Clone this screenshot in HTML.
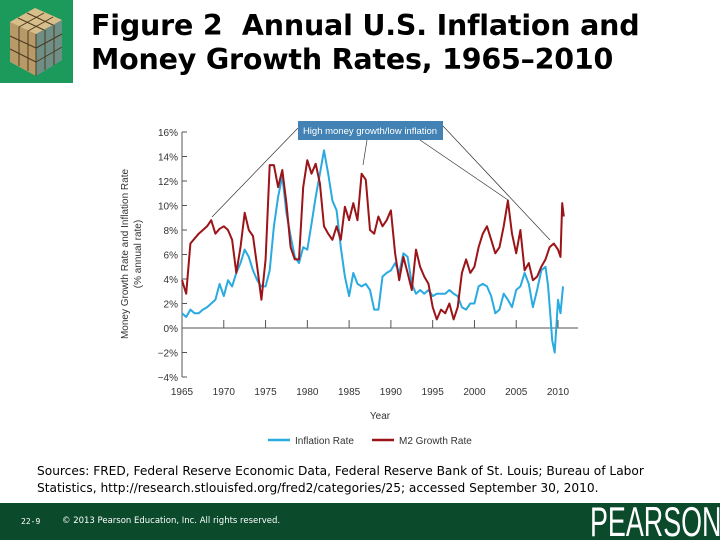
<!DOCTYPE html>
<html><head><meta charset="utf-8"><style>
body{margin:0;width:720px;height:540px;overflow:hidden;background:#fff;position:relative;font-family:"Liberation Sans",sans-serif}
.title{position:absolute;left:91px;top:9px;font-family:"DejaVu Sans",sans-serif;font-weight:bold;font-size:28.5px;line-height:34px;color:#000;letter-spacing:-0.2px}
.src{position:absolute;left:37px;top:463px;font-family:"DejaVu Sans",sans-serif;font-size:12.2px;line-height:17px;color:#000}
.footer{position:absolute;left:0;top:503px;width:720px;height:37px;background:#0b4a2b;overflow:hidden}
</style></head><body>
<div style="position:absolute;left:0;top:0;width:73px;height:83px;background:#1b9a5c">
<svg width="73" height="83"><polygon points="10,22 35,8 62,20 62,60 36,76 10,62" fill="#b89a68"/><polygon points="10,22 35,8 62,20 36,34" fill="#d8be8a"/><polygon points="36,34 62,20 62,60 36,76" fill="#6f8f86"/>
<g stroke="#4a3a20" stroke-width="1"><line x1="18" y1="18" x2="44" y2="30"/><line x1="27" y1="13" x2="53" y2="25"/><line x1="19" y1="27" x2="44" y2="13"/><line x1="28" y1="31" x2="53" y2="17"/><line x1="36" y1="34" x2="36" y2="76"/><line x1="19" y1="27" x2="19" y2="66"/><line x1="28" y1="31" x2="28" y2="71"/><line x1="45" y1="30" x2="45" y2="70"/><line x1="54" y1="25" x2="54" y2="65"/><line x1="10" y1="36" x2="36" y2="48"/><line x1="10" y1="49" x2="36" y2="62"/><line x1="36" y1="48" x2="62" y2="34"/><line x1="36" y1="62" x2="62" y2="47"/></g></svg></div>
<div class="title">Figure 2&nbsp; Annual U.S. Inflation and<br>Money Growth Rates, 1965–2010</div>

<svg id="chart" width="720" height="460" style="position:absolute;left:0;top:0" font-family="Liberation Sans, sans-serif"></svg>

<div class="src">Sources: FRED, Federal Reserve Economic Data, Federal Reserve Bank of St. Louis; Bureau of Labor<br>Statistics, http://research.stlouisfed.org/fred2/categories/25; accessed September 30, 2010.</div>
<div class="footer">
<span style="position:absolute;left:21px;top:14px;color:#fff;font-family:'DejaVu Sans Mono',monospace;font-size:8px">22-9</span>
<span style="position:absolute;left:62px;top:13px;color:#fff;font-family:'DejaVu Sans',sans-serif;font-size:8.5px">© 2013 Pearson Education, Inc. All rights reserved.</span>
<span style="position:absolute;left:590px;top:-5px;color:#fff;font-family:'Liberation Sans',sans-serif;font-size:42px;transform:scaleX(0.64);transform-origin:left top;white-space:nowrap">PEARSON</span>
</div>
<script>
const yTicks=[16,14,12,10,8,6,4,2,0,-2,-4];
const xTicks=[1965,1970,1975,1980,1985,1990,1995,2000,2005,2010];
const m2Years=[1965,1965.5,1966,1967,1968,1968.5,1969,1969.5,1970,1970.5,1971,1971.5,1972,1972.5,1973,1973.5,1974,1974.5,1975,1975.5,1976,1976.5,1977,1977.5,1978,1978.5,1979,1979.5,1980,1980.5,1981,1981.5,1982,1982.5,1983,1983.5,1984,1984.5,1985,1985.5,1986,1986.5,1987,1987.5,1988,1988.5,1989,1989.5,1990,1990.5,1991,1991.5,1992,1992.5,1993,1993.5,1994,1994.5,1995,1995.5,1996,1996.5,1997,1997.5,1998,1998.5,1999,1999.5,2000,2000.5,2001,2001.5,2002,2002.5,2003,2003.5,2004,2004.5,2005,2005.5,2006,2006.5,2007,2007.5,2008,2008.5,2009,2009.5,2010,2010.3,2010.5,2010.7];
const m2Values=[3.9,2.8,6.9,7.7,8.3,8.8,7.7,8.1,8.3,8.0,7.2,4.5,6.6,9.4,8.0,7.5,5.0,2.3,5.6,13.3,13.3,11.5,12.9,10.2,6.6,5.6,5.6,11.5,13.7,12.6,13.4,11.8,8.3,7.7,7.2,8.3,7.2,9.9,8.8,10.2,8.8,12.6,12.1,8.0,7.7,9.1,8.3,8.8,9.6,6.1,3.9,5.8,4.5,3.1,6.4,5.0,4.2,3.6,1.7,0.7,1.5,1.2,2.0,0.7,1.7,4.5,5.6,4.5,5.0,6.6,7.7,8.3,7.2,6.1,6.6,8.3,10.4,7.7,6.1,8.0,4.7,5.3,3.9,4.2,5.0,5.6,6.6,6.9,6.4,5.8,10.2,9.1];
const infYears=[1965,1965.5,1966,1966.5,1967,1967.5,1968,1968.5,1969,1969.5,1970,1970.5,1971,1971.5,1972,1972.5,1973,1973.5,1974,1974.5,1975,1975.5,1976,1976.5,1977,1977.5,1978,1978.5,1979,1979.5,1980,1980.5,1981,1981.5,1982,1982.5,1983,1983.5,1984,1984.5,1985,1985.5,1986,1986.5,1987,1987.5,1988,1988.5,1989,1989.5,1990,1990.5,1991,1991.5,1992,1992.5,1993,1993.5,1994,1994.5,1995,1995.5,1996,1996.5,1997,1997.5,1998,1998.5,1999,1999.5,2000,2000.5,2001,2001.5,2002,2002.5,2003,2003.5,2004,2004.5,2005,2005.5,2006,2006.5,2007,2007.5,2008,2008.5,2008.8,2009.1,2009.3,2009.6,2010,2010.3,2010.6];
const infValues=[1.2,0.9,1.5,1.2,1.2,1.5,1.7,2.0,2.3,3.6,2.6,3.9,3.4,4.5,5.3,6.4,5.8,4.7,3.9,3.4,3.4,4.7,8.3,10.7,12.4,9.4,7.5,5.8,5.3,6.6,6.4,8.5,10.7,12.6,14.5,12.6,10.4,9.6,6.6,4.2,2.6,4.5,3.6,3.4,3.6,3.1,1.5,1.5,4.2,4.5,4.7,5.3,4.5,6.1,5.8,3.6,2.8,3.1,2.8,3.1,2.6,2.8,2.8,2.8,3.1,2.8,2.6,1.7,1.5,2.0,2.0,3.4,3.6,3.4,2.6,1.2,1.5,2.8,2.3,1.7,3.1,3.4,4.5,3.6,1.7,3.1,4.7,5.0,3.5,0.9,-1.0,-2.0,2.3,1.2,3.4];

const svg=document.getElementById('chart');const NS='http://www.w3.org/2000/svg';
const X0=182,X1=558,Y0=328,PX=12.25;
function xs(y){return X0+(y-1965)*(X1-X0)/45;}
function ys(v){return Y0-v*PX;}
function mk(t,a,p){const e=document.createElementNS(NS,t);for(const k in a)e.setAttribute(k,a[k]);(p||svg).appendChild(e);return e;}
let ax=mk('line',{x1:X0,y1:ys(16),x2:X0,y2:ys(-4),stroke:'#555','stroke-width':1});


yTicks.forEach(v=>{
 const t=mk('line',{x1:X0,y1:ys(v),x2:X0+5,y2:ys(v),stroke:'#555'});
 
 
 const l=mk('text',{x:X0-4,y:ys(v)+4,'text-anchor':'end','font-size':10,fill:'#333'});
 l.textContent=(v<0?'\u2212'+(-v):v)+'%';
 
 
});
let zl=mk('line',{x1:X0,y1:Y0,x2:578,y2:Y0,stroke:'#555'});


xTicks.forEach(v=>{
 const t=mk('line',{x1:xs(v),y1:Y0-8,x2:xs(v),y2:Y0,stroke:'#555'});
 
 
 const l=mk('text',{x:xs(v),y:395,'text-anchor':'middle','font-size':10,fill:'#333'});
 l.textContent=v;
 
 
});
let xt=mk('text',{x:380,y:419,'text-anchor':'middle','font-size':10,fill:'#333'});xt.textContent='Year';


let yt=mk('text',{transform:'translate(128,254) rotate(-90)','text-anchor':'middle','font-size':10,fill:'#333'});yt.textContent='Money Growth Rate and Inflation Rate';


let yt2=mk('text',{transform:'translate(141,254) rotate(-90)','text-anchor':'middle','font-size':10,fill:'#333'});yt2.textContent='(% annual rate)';


function line(xa,va,c,n){const p=mk('path',{d:xa.map((x,i)=>(i?'L':'M')+xs(x).toFixed(1)+','+ys(va[i]).toFixed(1)).join(''),fill:'none',stroke:c,'stroke-width':2,'stroke-linejoin':'round'});
 
 }
line(infYears,infValues,'#29aae1','inflation-line');
line(m2Years,m2Values,'#9b1418','m2-growth-line');
[[298,128,212,217],[367,140,363,165],[420,140,508,200],[443,126,550,240]].forEach(a=>{
 const l=mk('line',{x1:a[0],y1:a[1],x2:a[2],y2:a[3],stroke:'#333','stroke-width':0.7});
 
 
});
let ab=mk('rect',{x:298,y:121,width:145,height:19,fill:'#4282b4'});


let at=mk('text',{x:370,y:134,'text-anchor':'middle','font-size':9.5,fill:'#fff'});at.textContent='High money growth/low inflation';


[[268,'#29aae1','Inflation Rate'],[372,'#9b1418','M2 Growth Rate']].forEach(l=>{
 const s=mk('line',{x1:l[0],y1:440,x2:l[0]+22,y2:440,stroke:l[1],'stroke-width':2.5});
 
 
 const t=mk('text',{x:l[0]+27,y:444,'font-size':10,fill:'#333'});t.textContent=l[2];
 
 
});
</script>
</body></html>
